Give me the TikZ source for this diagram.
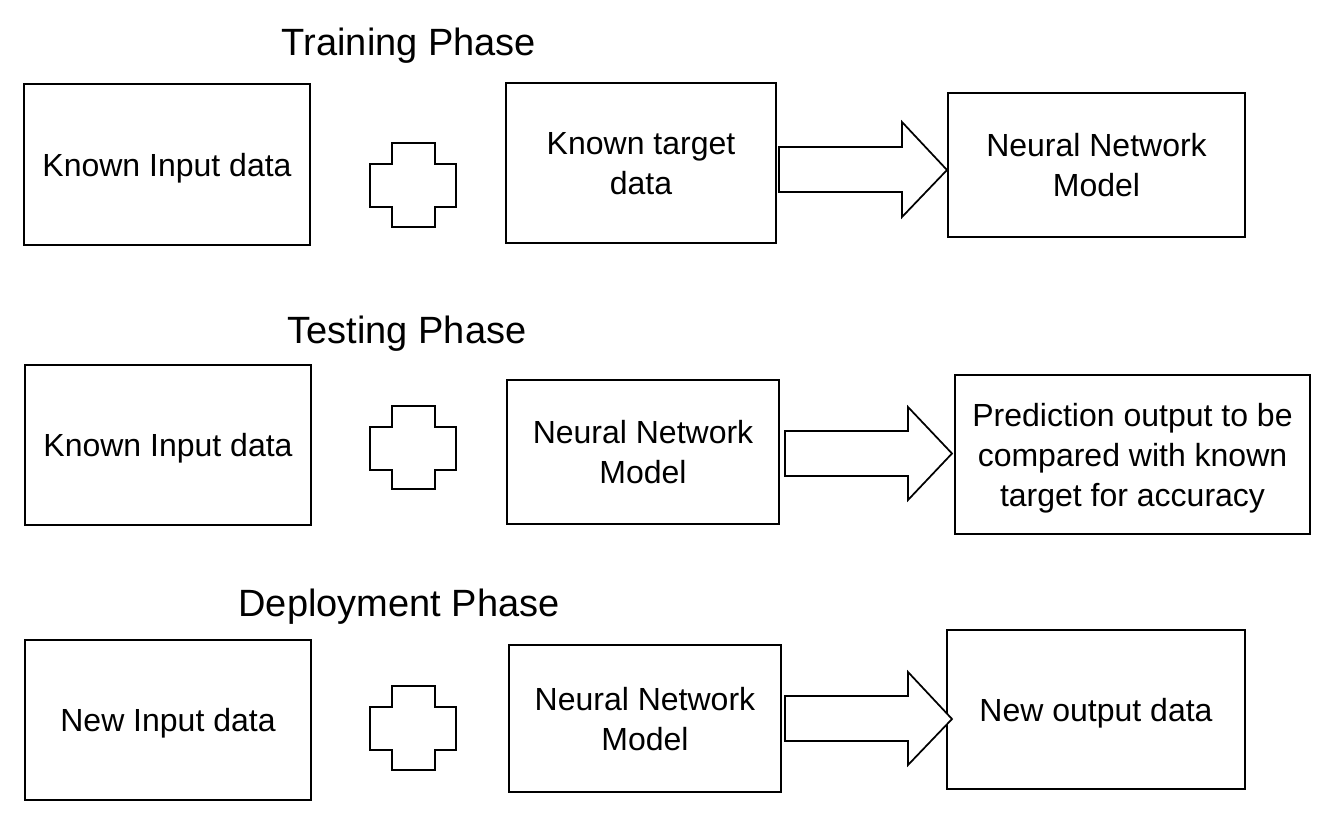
\documentclass[tikz,border=0pt]{standalone}
\usepackage{fontspec}
\setmainfont{Liberation Sans}
\begin{document}
\begin{tikzpicture}[x=0.75pt,y=-0.75pt,
  box/.style={draw=black, line width=1.3pt, align=center, inner sep=0pt, text depth=0pt,
    font=\fontsize{24}{30}\selectfont},
  phasetitle/.style={anchor=base, inner sep=0pt, font=\fontsize{28.5}{34}\selectfont},
  shapeline/.style={draw=black, line width=1.3pt, line join=miter, fill=white}]
\useasboundingbox (0,0) rectangle (1334,821);

% titles
\node[phasetitle] (t1) at (409,55) {Training Phase};
\node[phasetitle] (t2) at (407,343) {Testing Phase};
\node[phasetitle] (t3) at (399,616) {Deployment Phase};

% row 1
\node[box, minimum width=214.5pt, minimum height=120.75pt] (A1) at (167,164.5) {Known Input data};
\node[box, minimum width=202.5pt, minimum height=120pt] (B1) at (641,163) {Known target\\data};
\node[box, minimum width=222.75pt, minimum height=108pt] (C1) at (1096.5,165) {Neural Network\\Model};

% row 2
\node[box, minimum width=214.5pt, minimum height=120pt] (A2) at (168,445) {Known Input data};
\node[box, minimum width=204pt, minimum height=108pt] (B2) at (643,452) {Neural Network\\Model};
\node[box, minimum width=266.25pt, minimum height=119.25pt] (C2) at (1132.5,454.5) {Prediction output to be\\compared with known\\target for accuracy};

% row 3
\node[box, minimum width=214.5pt, minimum height=120pt] (A3) at (168,720) {New Input data};
\node[box, minimum width=204pt, minimum height=110.25pt] (B3) at (645,718.5) {Neural Network\\Model};
\node[box, minimum width=223.5pt, minimum height=119.25pt] (C3) at (1096,709.5) {New output data};

% plus signs
\path[shapeline] (392,143) -- (435,143) -- (435,164) -- (456,164) -- (456,207) -- (435,207)
  -- (435,227) -- (392,227) -- (392,207) -- (370,207) -- (370,164) -- (392,164) -- cycle;
\path[shapeline] (392,406) -- (435,406) -- (435,427) -- (456,427) -- (456,470) -- (435,470)
  -- (435,489) -- (392,489) -- (392,470) -- (370,470) -- (370,427) -- (392,427) -- cycle;
\path[shapeline] (392,686) -- (435,686) -- (435,707) -- (456,707) -- (456,750) -- (435,750)
  -- (435,770) -- (392,770) -- (392,750) -- (370,750) -- (370,707) -- (392,707) -- cycle;

% block arrows
\path[shapeline] (779,147) -- (902,147) -- (902,122) -- (947,170) -- (902,217) -- (902,192) -- (779,192) -- cycle;
\path[shapeline] (785,431) -- (908,431) -- (908,407) -- (952,453.5) -- (908,500) -- (908,476) -- (785,476) -- cycle;
\path[shapeline] (785,696) -- (908,696) -- (908,672) -- (952,719) -- (908,765) -- (908,741) -- (785,741) -- cycle;
\end{tikzpicture}
\end{document}
